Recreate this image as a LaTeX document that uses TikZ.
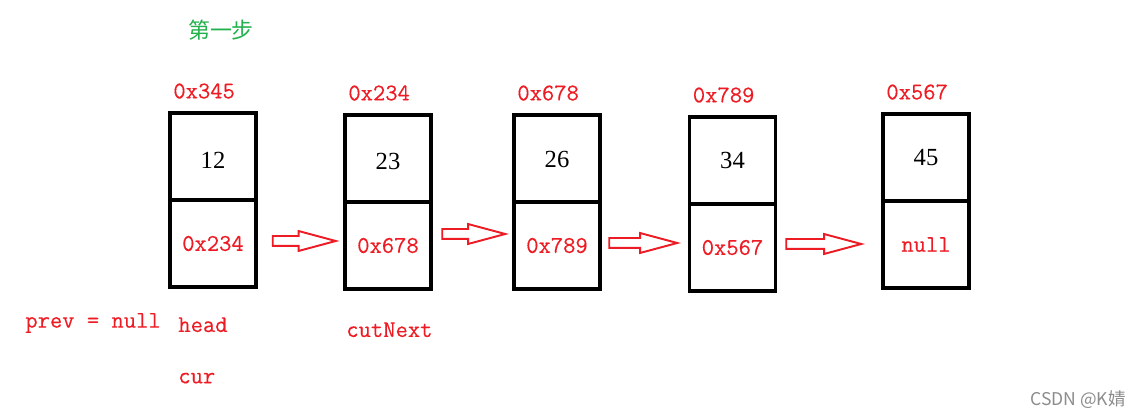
\documentclass[tikz,border=0pt]{standalone}
\usepackage{fontspec}
\setmainfont{Liberation Serif}
\setmonofont[FakeBold=0.35]{Latin Modern Mono}
\newfontfamily\cjk{Noto Sans CJK SC}
\usetikzlibrary{shapes.arrows, positioning}
\definecolor{paintRed}{RGB}{237,28,36}
\definecolor{stepGreen}{RGB}{34,177,76}
\tikzstyle{cellBox} = [shape=rectangle, draw=black, line width=2.2pt, 
	minimum width=1.72cm, minimum height=1.74cm, outer sep=0pt, inner sep=0pt]
\tikzstyle{valBox} = [cellBox, anchor=north, text=black, font=\fontsize{14}{15}\selectfont]
\tikzstyle{nextBox} = [cellBox, anchor=north, text=paintRed, font=\ttfamily\fontsize{13.6}{15}\selectfont]
\tikzstyle{redText} = [text=paintRed, font=\ttfamily\fontsize{13.6}{15}\selectfont, inner sep=0pt]
\tikzstyle{addrText} = [redText, anchor=south west, xshift=.06cm, yshift=.28cm]
\tikzstyle{refArrow} = [single arrow, draw=paintRed, fill=white, line width=1.1pt, 
	inner sep=.08cm, single arrow head extend=.1cm, single arrow tip angle=30, minimum height=1.26cm]

\begin{document}
\begin{tikzpicture}
   \useasboundingbox (0,0) rectangle (22.86,-8.38);
	\node (step) at (4.42,-0.6) [text=stepGreen, font=\cjk\fontsize{12.5}{14}\selectfont] {第一步};

	% nodes of the list
	\node (val1) at (4.26,-2.26) [valBox, text height=.48cm] {12};
	\node (next1) at (val1.south) [nextBox] {0x234};
	\node (val2) at (7.76,-2.30) [valBox, text height=.44cm] {23};
	\node (next2) at (val2.south) [nextBox] {0x678};
	\node (val3) at (11.14,-2.30) [valBox, text height=.38cm] {26};
	\node (next3) at (val3.south) [nextBox] {0x789};
	\node (val4) at (14.65,-2.34) [valBox] {34};
	\node (next4) at (val4.south) [nextBox] {0x567};
	\node (val5) at (18.52,-2.28) [valBox] {45};
	\node (next5) at (val5.south) [nextBox] {null};

	% addresses
	\node (addr1) at (val1.north west) [addrText] {0x345};
	\node (addr2) at (val2.north west) [addrText] {0x234};
	\node (addr3) at (val3.north west) [addrText] {0x678};
	\node (addr4) at (val4.north west) [addrText] {0x789};
	\node (addr5) at (val5.north west) [addrText] {0x567};

	% references
	\node (ref1) at (5.90,-4.82) [refArrow] {};
	\node (ref2) at (9.29,-4.68) [refArrow] {};
	\node (ref3) at (12.68,-4.86) [refArrow, minimum height=1.36cm] {};
	\node (ref4) at (16.29,-4.88) [refArrow, minimum height=1.5cm] {};

	% pointers
	\node (prev) at (0.5,-6.46) [redText, anchor=west] {prev = null};
	\node (head) at (next1.south west) [redText, anchor=north west, xshift=.16cm, yshift=-.6cm] {head};
	\node (cur) [redText, below=.8cm of head.south west, anchor=north west] {cur};
	\node (cutNext) at (next2.south west) [redText, anchor=north west, xshift=.02cm, yshift=-.66cm] {cutNext};

	\node (mark) at (21.56,-8.0) [text=black!45, font=\cjk\fontsize{10}{12}\selectfont] {CSDN @K婧};
\end{tikzpicture}
\end{document}
